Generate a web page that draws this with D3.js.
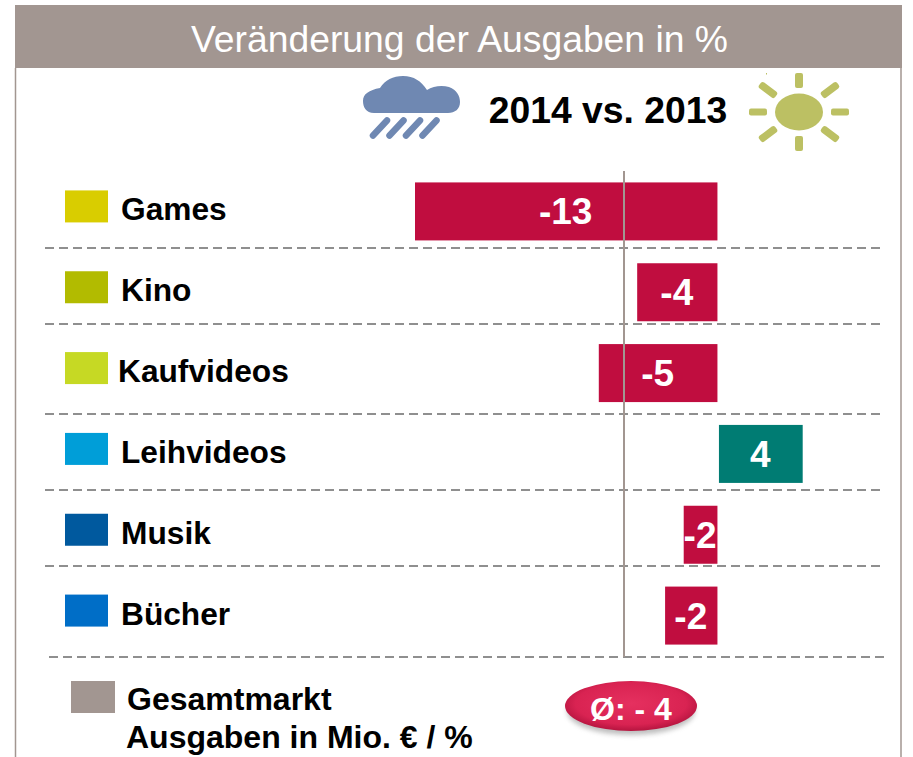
<!DOCTYPE html>
<html><head><meta charset="utf-8">
<script src="https://cdn.jsdelivr.net/npm/d3@7/dist/d3.min.js"></script>
<style>html,body{margin:0;padding:0;background:#fff}svg{display:block;font-family:"Liberation Sans",Arial,sans-serif}</style>
</head><body><svg id="c" width="913" height="757"></svg>
<script>
const categories=["Games","Kino","Kaufvideos","Leihvideos","Musik","Bücher"];
const values=[-13,-3.45,-5.1,3.6,-1.45,-2.25];
const valueLabels=["-13","-4","-5","4","-2","-2"];
const legendColors=["#d9cd00","#b2bb00","#c6d924","#009ed8","#00599e","#006ec7"];
const title="Veränderung der Ausgaben in %";
const subtitle="2014 vs. 2013";
const totalLines=["Gesamtmarkt","Ausgaben in Mio. € / %"];
const totalLabel="Ø: - 4";

const svg=d3.select("#c");
const grey="#a29691";
const defs=svg.append("defs");
const grad=defs.append("radialGradient").attr("id","pill").attr("cx","50%").attr("cy","45%").attr("r","60%");
grad.append("stop").attr("offset","0%").attr("stop-color","#e5305f");
grad.append("stop").attr("offset","70%").attr("stop-color","#d92352");
grad.append("stop").attr("offset","100%").attr("stop-color","#a80f38");
const blur=defs.append("filter").attr("id","sh").attr("x","-20%").attr("y","-20%").attr("width","140%").attr("height","160%");
blur.append("feGaussianBlur").attr("stdDeviation","2.5");

// frame
svg.append("rect").attr("x",15).attr("y",5).attr("width",887).attr("height",63).attr("fill",grey);
svg.append("line").attr("x1",15.5).attr("x2",15.5).attr("y1",68).attr("y2",757).attr("stroke",grey).attr("stroke-width",1.5);
svg.append("line").attr("x1",901).attr("x2",901).attr("y1",68).attr("y2",757).attr("stroke",grey).attr("stroke-width",1.5);
svg.append("text").attr("x",459.5).attr("y",52).attr("text-anchor","middle").attr("font-size",37.3).attr("fill","#fff").text(title);
svg.append("text").attr("x",608).attr("y",123).attr("text-anchor","middle").attr("font-size",37.3).attr("font-weight","bold").attr("fill","#000").text(subtitle);

// cloud
const cloud=svg.append("g").attr("fill","#6f88b2");
cloud.append("path").attr("d","M374 113 C366 113 363 107 363 101 C363 94 369 90 380 88 C385 80 393 76 403 76 C414 76 421 81 427 90 C433 86 442 85 449 87 C457 90 460 96 460 102 C460 109 455 113 448 113 Z");
[0,16.5,33,49.5].forEach(d=>cloud.append("line").attr("x1",373+d).attr("y1",135.5).attr("x2",387+d).attr("y2",120.5).attr("stroke","#6f88b2").attr("stroke-width",6.5).attr("stroke-linecap","round"));
// sun
const sun=svg.append("g").attr("transform","translate(799,112)").attr("fill","#bcc063");
sun.append("ellipse").attr("rx",24).attr("ry",18.5);
[[-50],[32]].forEach(a=>sun.append("rect").attr("x",a[0]).attr("y",-3.5).attr("width",18).attr("height",7).attr("rx",2));
[-39,24].forEach(y=>sun.append("rect").attr("x",-4).attr("y",y).attr("width",8).attr("height",15).attr("rx",2));
[[-31,-22,37],[31,-22,-37],[-31,22,-37],[31,22,37]].forEach(a=>sun.append("rect").attr("x",-10).attr("y",-3.7).attr("width",20).attr("height",7.5).attr("rx",2.5).attr("transform",`translate(${a[0]},${a[1]}) rotate(${a[2]})`));
svg.append("rect").attr("x",766).attr("y",73).attr("width",1).attr("height",1.5).attr("fill","#bcc063");

// scales
const x=d3.scaleLinear().domain([-13,4]).range([415,810.5]);
const y=d3.scaleBand().domain(categories).range([171,656]).paddingInner(0.3).paddingOuter(0.15);
const cy=c=>y(c)+y.bandwidth()/2;

// rules
const ruleY=[248,324,414,490,566];
svg.append("g").selectAll("line").data(ruleY).join("line").attr("x1",45).attr("x2",881).attr("y1",d=>d).attr("y2",d=>d)
  .attr("stroke","#8f8f8f").attr("stroke-width",2).attr("stroke-dasharray","9 5");
svg.append("line").attr("x1",49).attr("x2",885).attr("y1",657).attr("y2",657).attr("stroke","#8f8f8f").attr("stroke-width",2).attr("stroke-dasharray","9 5");

// bars
const rows=categories.map((c,i)=>({c,v:values[i],l:valueLabels[i],col:legendColors[i],i}));
const barH=58;
svg.append("g").selectAll("rect").data(rows).join("rect")
  .attr("x",d=>d.v<0?x(d.v):x(0)+1.5).attr("width",d=>Math.abs(x(d.v)-x(0)))
  .attr("y",d=>cy(d.c)-barH/2).attr("height",barH)
  .attr("fill",d=>d.v<0?"#c00d3f":"#007c73");
// axis line
svg.append("line").attr("x1",624).attr("x2",624).attr("y1",171).attr("y2",657).attr("stroke",grey).attr("stroke-width",2);
svg.append("g").selectAll("text").data(rows).join("text")
  .attr("x",d=>(x(d.v)+x(0))/2+(d.v<0?-0.5:1)).attr("y",d=>cy(d.c)+13).attr("text-anchor","middle")
  .attr("font-size",37).attr("font-weight","bold").attr("fill","#fff").text(d=>d.l);

// legend
svg.append("g").selectAll("rect").data(rows).join("rect").attr("x",65).attr("width",43).attr("height",32)
  .attr("y",d=>cy(d.c)-21).attr("fill",d=>d.col);
svg.append("g").selectAll("text").data(rows).join("text").attr("x",d=>d.c==="Kaufvideos"?118:121)
  .attr("y",d=>cy(d.c)+9).attr("font-size",31.7).attr("font-weight","bold").attr("fill","#000").text(d=>d.c);

// total
svg.append("rect").attr("x",71).attr("y",681).attr("width",44).attr("height",32).attr("fill",grey);
svg.append("text").attr("x",127).attr("y",710).attr("font-size",32).attr("font-weight","bold").text(totalLines[0]);
svg.append("text").attr("x",126).attr("y",748).attr("font-size",32).attr("font-weight","bold").text(totalLines[1]);
svg.append("ellipse").attr("cx",631).attr("cy",711).attr("rx",64).attr("ry",24).attr("fill","#888").attr("opacity",.55).attr("filter","url(#sh)");
svg.append("ellipse").attr("cx",631).attr("cy",706).attr("rx",66).attr("ry",25).attr("fill","url(#pill)");
svg.append("text").attr("x",631).attr("y",720).attr("text-anchor","middle").attr("font-size",32).attr("font-weight","bold").attr("fill","#fff").text(totalLabel);
</script></body></html>
